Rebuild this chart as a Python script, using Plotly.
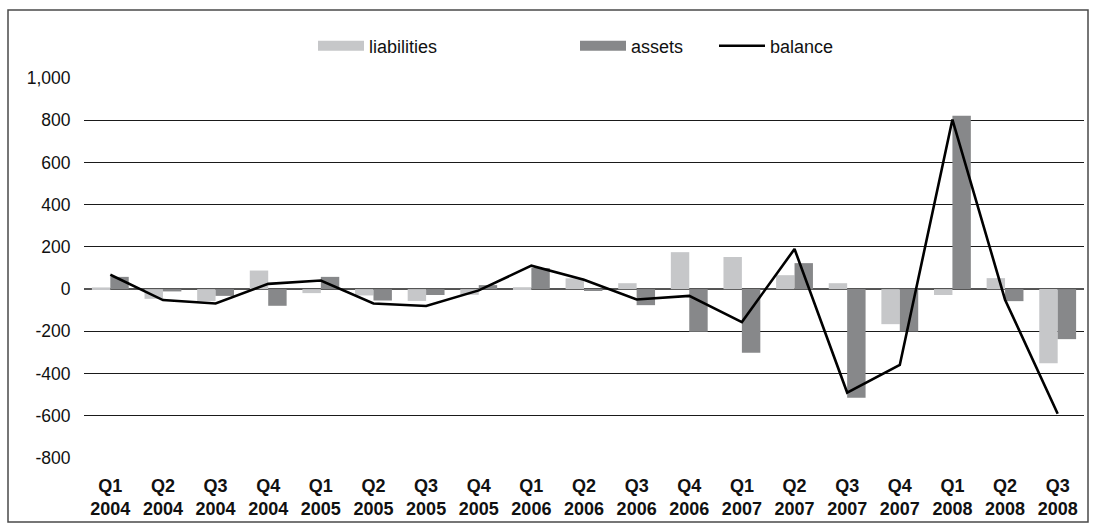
import plotly.graph_objects as go

# Quarterly flows, Q1 2004 - Q3 2008
quarters = ["Q1", "Q2", "Q3", "Q4", "Q1", "Q2", "Q3", "Q4", "Q1", "Q2",
            "Q3", "Q4", "Q1", "Q2", "Q3", "Q4", "Q1", "Q2", "Q3"]
years = ["2004", "2004", "2004", "2004", "2005", "2005", "2005", "2005", "2006", "2006",
         "2006", "2006", "2007", "2007", "2007", "2007", "2008", "2008", "2008"]
liabilities = [8, -46, -57, 88, -19, -30, -56, -27, 9, 51,
               28, 175, 152, 66, 28, -166, -28, 52, -351]
assets = [58, -11, -32, -79, 58, -54, -28, 19, 100, -9,
          -76, -202, -302, 123, -515, -201, 821, -57, -237]
balance = [68, -52, -68, 25, 41, -68, -80, -6, 111, 44,
           -49, -32, -156, 190, -490, -359, 803, -50, -590]

y_ticks = [1000, 800, 600, 400, 200, 0, -200, -400, -600, -800]
y_tick_text = ["1,000", "800", "600", "400", "200", "0", "-200", "-400", "-600", "-800"]

labels = [f"{q}<br>{y}" for q, y in zip(quarters, years)]

LIAB_COLOR = "#c6c7c9"
ASSET_COLOR = "#87888a"
FONT = "Liberation Sans, Arial, Helvetica, sans-serif"

# plot area geometry (pixels) used to place the frame and legends
W, H = 1096, 532
L, R, T, B = 84, 12, 78, 74
PW, PH = W - L - R, H - T - B


def px_x(px):
    return (px - L) / PW


def px_y(py):
    return (H - B - py) / PH


fig = go.Figure()
fig.add_trace(go.Bar(x=labels, y=liabilities, name="liabilities",
                     marker=dict(color=LIAB_COLOR, line=dict(width=0)),
                     showlegend=False))
fig.add_trace(go.Bar(x=labels, y=assets, name="assets",
                     marker=dict(color=ASSET_COLOR, line=dict(width=0)),
                     showlegend=False))
fig.add_trace(go.Scatter(x=labels, y=balance, name="balance", mode="lines",
                         line=dict(color="#000000", width=2.6),
                         legend="legend3"))

# wide swatch legend keys for the two bar series
fig.add_trace(go.Scatter(x=[None], y=[None], mode="lines", name="liabilities",
                         line=dict(color=LIAB_COLOR, width=12), legend="legend"))
fig.add_trace(go.Scatter(x=[None], y=[None], mode="lines", name="assets",
                         line=dict(color=ASSET_COLOR, width=12), legend="legend2"))

legend_common = dict(orientation="h", xref="paper", yref="paper",
                     yanchor="middle", xanchor="left", itemwidth=46,
                     font=dict(family=FONT, size=18, color="#111111"),
                     bgcolor="rgba(0,0,0,0)", borderwidth=0)

fig.update_layout(
    width=W, height=H,
    margin=dict(l=L, r=R, t=T, b=B, autoexpand=False),
    paper_bgcolor="white", plot_bgcolor="white",
    font=dict(family=FONT, size=18, color="#111111"),
    barmode="group", bargap=0.3, bargroupgap=0,
    legend=dict(x=px_x(313), y=px_y(46), **legend_common),
    legend2=dict(x=px_x(575), y=px_y(46), **legend_common),
    legend3=dict(x=px_x(714), y=px_y(46), **legend_common),
    xaxis=dict(type="category", showgrid=False, showline=False, zeroline=False,
               automargin=False,
               ticks="outside", ticklen=11, tickcolor="rgba(0,0,0,0)",
               tickfont=dict(family=FONT, size=18, color="#111111", weight="bold")),
    yaxis=dict(range=[-800, 1000], tickvals=y_ticks, ticktext=y_tick_text,
               automargin=False,
               showgrid=True, gridcolor="#1a1a1a", gridwidth=1.3,
               zeroline=True, zerolinecolor="#555555", zerolinewidth=1.6,
               showline=False, ticks="outside", ticklen=9,
               tickcolor="rgba(0,0,0,0)",
               tickfont=dict(family=FONT, size=17.5, color="#111111")),
    shapes=[dict(type="rect", xref="paper", yref="paper",
                 x0=px_x(8), x1=px_x(1088),
                 y0=px_y(522), y1=px_y(10),
                 line=dict(color="#4a4a4a", width=1.5), layer="below")],
)

fig.write_html("out.html")
